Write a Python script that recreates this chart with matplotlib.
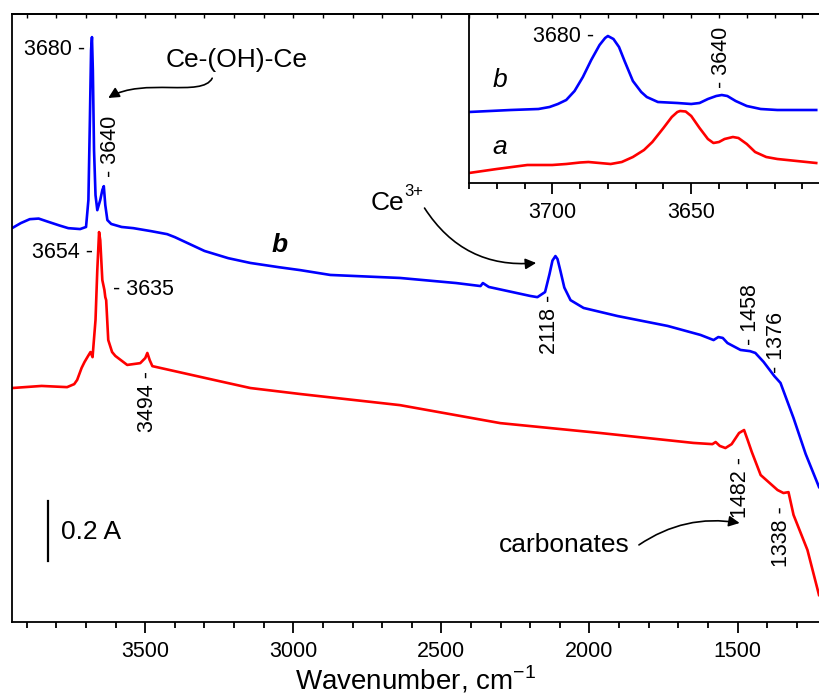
import matplotlib
matplotlib.use("Agg")
import matplotlib.pyplot as plt
from matplotlib.ticker import MultipleLocator
from matplotlib.patches import FancyArrowPatch
from matplotlib.path import Path

plt.rcParams['font.family'] = ['Liberation Sans', 'DejaVu Sans']
plt.rcParams['mathtext.fontset'] = 'custom'
plt.rcParams['mathtext.rm'] = 'Liberation Sans'

# spectrum b (blue), main panel: wavenumber / absorbance
wn_b = [3950, 3920, 3890, 3860, 3830, 3790, 3760, 3720, 3700, 3692, 3687, 3683, 3680,
        3677, 3673, 3668, 3662, 3652, 3645, 3640, 3635, 3628, 3615, 3580, 3540, 3480,
        3426, 3400, 3350, 3300, 3220, 3145, 3050, 2976, 2875, 2640, 2450, 2368, 2360,
        2340, 2200, 2176, 2150, 2135, 2125, 2115, 2108, 2098, 2085, 2064, 2020, 1905,
        1736, 1625, 1581, 1565, 1550, 1534, 1490, 1458, 1440, 1412, 1376, 1355, 1311,
        1270, 1225]
abs_b = [1.313, 1.330, 1.343, 1.345, 1.335, 1.322, 1.313, 1.310, 1.317, 1.407, 1.673, 1.907, 1.950,
         1.840, 1.573, 1.423, 1.373, 1.407, 1.440, 1.453, 1.390, 1.340, 1.327, 1.317, 1.313, 1.303,
         1.293, 1.283, 1.260, 1.237, 1.213, 1.197, 1.183, 1.173, 1.157, 1.147, 1.130, 1.120, 1.130,
         1.117, 1.087, 1.083, 1.100, 1.160, 1.205, 1.220, 1.210, 1.170, 1.115, 1.073, 1.047, 1.020,
         0.987, 0.957, 0.940, 0.950, 0.947, 0.930, 0.907, 0.903, 0.897, 0.867, 0.820, 0.797, 0.680,
         0.560, 0.450]

# spectrum a (red), main panel
wn_a = [3950, 3850, 3764, 3740, 3730, 3715, 3705, 3693, 3685, 3678, 3668, 3662,
        3656, 3652, 3645, 3638, 3635, 3632, 3625, 3612, 3601, 3561, 3517, 3500,
        3493, 3485, 3476, 3372, 3250, 3145, 2976, 2640, 2301, 1963, 1649, 1585, 1574,
        1560, 1541, 1520, 1495, 1478, 1466, 1452, 1422, 1365, 1345, 1328, 1311,
        1264, 1225]
abs_a = [0.780, 0.787, 0.783, 0.793, 0.807, 0.847, 0.867, 0.887, 0.900, 0.883, 1.007, 1.173,
         1.300, 1.273, 1.140, 1.107, 1.083, 1.073, 0.940, 0.900, 0.887, 0.857, 0.863, 0.880,
         0.897, 0.873, 0.853, 0.830, 0.803, 0.780, 0.760, 0.723, 0.663, 0.630, 0.597, 0.593, 0.600,
         0.587, 0.580, 0.593, 0.630, 0.640, 0.607, 0.567, 0.490, 0.440, 0.430, 0.433, 0.357,
         0.240, 0.090]

# inset (OH region)
wn_ib = [3730, 3715, 3705, 3701, 3698, 3695, 3692, 3689, 3686, 3683, 3681, 3680,
         3678, 3676, 3674, 3671, 3668, 3666, 3662, 3655, 3650, 3647, 3644, 3641,
         3639, 3637, 3634, 3630, 3625, 3619, 3605]
abs_ib = [0.71, 0.73, 0.74, 0.76, 0.79, 0.83, 0.92, 1.06, 1.23, 1.38, 1.45, 1.47,
          1.44, 1.36, 1.22, 1.02, 0.91, 0.86, 0.81, 0.80, 0.79, 0.80, 0.84, 0.87,
          0.88, 0.87, 0.82, 0.77, 0.74, 0.73, 0.73]
wn_ia = [3730, 3720, 3709, 3700, 3695, 3690, 3687, 3683, 3679, 3675, 3671, 3667,
         3664, 3660, 3657, 3655, 3654, 3652, 3650, 3647, 3644, 3642, 3640, 3638,
         3635, 3633, 3630, 3627, 3623, 3619, 3612, 3605]
abs_ia = [0.10, 0.14, 0.18, 0.18, 0.19, 0.205, 0.21, 0.20, 0.19, 0.21, 0.26, 0.33,
          0.41, 0.55, 0.66, 0.71, 0.72, 0.715, 0.67, 0.55, 0.44, 0.40, 0.41, 0.44,
          0.46, 0.45, 0.39, 0.31, 0.26, 0.24, 0.22, 0.20]

main_ticks = [3500, 3000, 2500, 2000, 1500]
inset_ticks = [3700, 3650]

fig = plt.figure(figsize=(8.19, 6.99), dpi=100)
ax = fig.add_axes([12/819, 77/699, 807/819, 608/699])
ax.plot(wn_b, abs_b, color='#0000ff', lw=1.9)
ax.plot(wn_a, abs_a, color='#ff0000', lw=1.9)
ax.set_xlim(3950, 1225)
ax.set_ylim(0, 2.027)
ax.spines['right'].set_visible(False)
for s in ['left', 'bottom', 'top']:
    ax.spines[s].set_linewidth(1.3)
ax.set_yticks([])
ax.set_xticks(main_ticks)
ax.xaxis.set_minor_locator(MultipleLocator(100))
ax.tick_params(axis='x', which='major', direction='out', length=8, width=1.3, labelsize=15.5, pad=6)
ax.tick_params(axis='x', which='minor', direction='out', length=4.5, width=1.3)
ax.set_xlabel('Wavenumber, cm$^{-1}$', fontsize=20, labelpad=1)
top = ax.secondary_xaxis('top')
top.set_xticks(main_ticks, labels=[])
top.xaxis.set_minor_locator(MultipleLocator(100))
top.tick_params(which='both', direction='in', length=3, width=1)
top.spines['top'].set_linewidth(1.3)

fs = 15.5
ax.text(3702, 1.907, '3680 -', ha='right', va='center', fontsize=fs)
ax.text(3618, 1.483, '- 3640', rotation=90, ha='center', va='bottom', fontsize=fs)
ax.text(3190, 1.873, 'Ce-(OH)-Ce', ha='center', va='center', fontsize=19)
ax.text(3678, 1.233, '3654 -', ha='right', va='center', fontsize=fs)
ax.text(3608, 1.107, '- 3635', ha='left', va='center', fontsize=fs)
ax.text(3493, 0.837, '3494 -', rotation=90, ha='center', va='top', fontsize=fs)
ax.text(3045, 1.257, 'b', ha='center', va='center', fontsize=19, style='italic', weight='bold')
ax.text(2739, 1.397, 'Ce', ha='left', va='center', fontsize=19)
ax.annotate('3+', xy=(2739, 1.397), xytext=(24.5, 3), textcoords='offset points',
            ha='left', va='bottom', fontsize=12)
ax.text(2136, 1.09, '2118 -', rotation=90, ha='center', va='top', fontsize=fs)
ax.text(1456, 0.923, '- 1458', rotation=90, ha='center', va='bottom', fontsize=fs)
ax.text(1369, 0.83, '- 1376', rotation=90, ha='center', va='bottom', fontsize=fs)
ax.text(1490, 0.55, '1482 -', rotation=90, ha='center', va='top', fontsize=fs)
ax.text(1352, 0.387, '1338 -', rotation=90, ha='center', va='top', fontsize=fs)
ax.text(2086, 0.257, 'carbonates', ha='center', va='center', fontsize=19)
ax.text(3783, 0.30, '0.2 A', ha='left', va='center', fontsize=19)
ax.plot([3830, 3830], [0.203, 0.403], color='k', lw=1.6)

arrow_kw = dict(arrowstyle='-|>', color='k', lw=1.2, shrinkA=0, shrinkB=0)
ax.annotate('', xy=(2180, 1.197), xytext=(2557, 1.38),
            arrowprops=dict(connectionstyle='arc3,rad=0.3', mutation_scale=16, **arrow_kw))
ax.annotate('', xy=(1493, 0.33), xytext=(1833, 0.257),
            arrowprops=dict(connectionstyle='arc3,rad=-0.2', mutation_scale=16, **arrow_kw))
curve = Path([(3274, 1.813), (3308, 1.747), (3507, 1.817), (3625, 1.747)],
             [Path.MOVETO, Path.CURVE4, Path.CURVE4, Path.CURVE4])
ax.add_patch(FancyArrowPatch(path=curve, arrowstyle='-|>', mutation_scale=16,
                             color='k', lw=1.2))

# inset
ins = fig.add_axes([469/819, (699-183)/699, 350/819, 169/699], zorder=5)
ins.set_facecolor('white')
ins.plot(wn_ib, abs_ib, color='#0000ff', lw=1.9)
ins.plot(wn_ia, abs_ia, color='#ff0000', lw=1.9)
ins.set_xlim(3730, 3604)
ins.set_ylim(0, 1.69)
ins.spines['right'].set_visible(False)
for s in ['left', 'bottom', 'top']:
    ins.spines[s].set_linewidth(1.3)
ins.set_yticks([])
ins.set_xticks(inset_ticks)
ins.xaxis.set_minor_locator(MultipleLocator(10))
ins.tick_params(axis='x', which='major', direction='out', length=8, width=1.3, labelsize=15.5, pad=6)
ins.tick_params(axis='x', which='minor', direction='out', length=4.5, width=1.3)
itop = ins.secondary_xaxis('top')
itop.set_xticks(inset_ticks, labels=[])
itop.xaxis.set_minor_locator(MultipleLocator(10))
itop.tick_params(which='both', direction='in', length=3, width=1)
itop.spines['top'].set_linewidth(1.3)
ins.text(3685, 1.47, '3680 -', ha='right', va='center', fontsize=fs)
ins.text(3639, 0.95, '- 3640', rotation=90, ha='center', va='bottom', fontsize=fs)
ins.text(3719, 1.03, 'b', ha='center', va='center', fontsize=19, style='italic')
ins.text(3719, 0.36, 'a', ha='center', va='center', fontsize=19, style='italic')

fig.savefig('out.png', dpi=100)
